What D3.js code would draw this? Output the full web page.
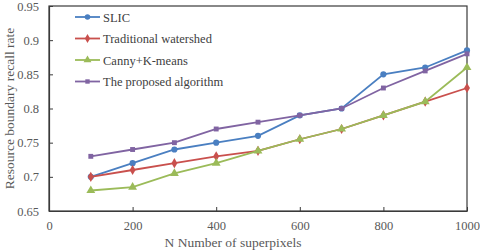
<!DOCTYPE html>
<html>
<head>
<meta charset="utf-8">
<script src="https://cdn.jsdelivr.net/npm/d3@7"></script>
<style>
  body { margin: 0; background: #fff; }
</style>
</head>
<body>
<script>
// values
var superpixels = [100, 200, 300, 400, 500, 600, 700, 800, 900, 1000];
var slic = [0.70, 0.72, 0.74, 0.75, 0.76, 0.79, 0.80, 0.85, 0.86, 0.885];
var watershed = [0.70, 0.71, 0.72, 0.73, 0.738, 0.755, 0.77, 0.79, 0.81, 0.83];
var cannyKmeans = [0.68, 0.685, 0.705, 0.72, 0.738, 0.755, 0.77, 0.79, 0.81, 0.86];
var proposed = [0.73, 0.74, 0.75, 0.77, 0.78, 0.79, 0.80, 0.83, 0.855, 0.88];
var xTicks = [0, 200, 400, 600, 800, 1000];
var yTicks = [0.65, 0.7, 0.75, 0.8, 0.85, 0.9, 0.95];

var serif = '"Liberation Serif", "Times New Roman", serif';

var series = [
  {name: 'SLIC', values: slic, color: '#4a7fc1', symbol: d3.symbolCircle, size: 30},
  {name: 'Traditional watershed', values: watershed, color: '#c9504d', symbol: d3.symbolDiamond, size: 30},
  {name: 'Canny+K-means', values: cannyKmeans, color: '#9bbb59', symbol: d3.symbolTriangle, size: 34},
  {name: 'The proposed algorithm', values: proposed, color: '#8064a2', symbol: d3.symbolSquare, size: 24}
];

var width = 480, height = 252;
var margin = {top: 6, right: 13, bottom: 41, left: 49};

var svg = d3.select('body').append('svg')
  .attr('width', width)
  .attr('height', height)
  .style('font-family', serif);

var x = d3.scaleLinear().domain([0, 1000]).range([margin.left, width - margin.right]);
var y = d3.scaleLinear().domain([0.65, 0.95]).range([height - margin.bottom, margin.top]);

// frame
svg.append('rect')
  .attr('x', x(0)).attr('y', y(0.95))
  .attr('width', x(1000) - x(0)).attr('height', y(0.65) - y(0.95))
  .attr('fill', 'none').attr('stroke', '#3a3a3a').attr('stroke-width', 1.2);

var xAxis = svg.append('g')
  .attr('transform', 'translate(0,' + y(0.65) + ')')
  .call(d3.axisBottom(x).tickValues(xTicks).tickSizeInner(-4).tickSizeOuter(0).tickPadding(10).tickFormat(d3.format('d')));

var yAxis = svg.append('g')
  .attr('transform', 'translate(' + x(0) + ',0)')
  .call(d3.axisLeft(y).tickValues(yTicks).tickSizeInner(-4).tickSizeOuter(0).tickPadding(10)
    .tickFormat(function(d) { return d3.format('')(+d.toFixed(2)); }));

[xAxis, yAxis].forEach(function(g) {
  g.attr('font-family', null).style('font-family', serif);
  g.select('.domain').attr('stroke', '#3a3a3a').attr('stroke-width', 1.2);
  g.selectAll('.tick line').attr('stroke', '#3a3a3a');
  g.selectAll('.tick text').attr('fill', '#595959').style('font-size', '12.5px')
    .style('font-family', serif);
});

var line = d3.line()
  .x(function(d, i) { return x(superpixels[i]); })
  .y(function(d) { return y(d); });

series.forEach(function(s) {
  svg.append('path')
    .attr('d', line(s.values))
    .attr('fill', 'none')
    .attr('stroke', s.color)
    .attr('stroke-width', 1.8);
  svg.selectAll(null)
    .data(s.values)
    .enter()
    .append('path')
    .attr('d', d3.symbol().type(s.symbol).size(s.size))
    .attr('transform', function(d, i) { return 'translate(' + x(superpixels[i]) + ',' + y(d) + ')'; })
    .attr('fill', s.color);
});

// legend
var legend = svg.append('g').attr('transform', 'translate(75,17)');
series.forEach(function(s, i) {
  var g = legend.append('g').attr('transform', 'translate(0,' + (i * 21.5) + ')');
  g.append('line').attr('x1', 0).attr('x2', 25).attr('y1', 0).attr('y2', 0)
    .attr('stroke', s.color).attr('stroke-width', 1.8);
  g.append('path').attr('d', d3.symbol().type(s.symbol).size(s.size * 0.8))
    .attr('transform', 'translate(12.5,0)').attr('fill', s.color);
  g.append('text').attr('x', 28).attr('y', 4.5)
    .style('font-family', serif)
    .style('font-size', '12.5px').attr('fill', '#404040')
    .text(s.name);
});

// axis titles
svg.append('text')
  .attr('x', 233).attr('y', 247)
  .attr('text-anchor', 'middle')
  .style('font-family', serif)
  .style('font-size', '13.5px').attr('fill', '#595959')
  .text('N Number of superpixels');

svg.append('text')
  .attr('transform', 'translate(14,' + ((y(0.65) + y(0.95)) / 2) + ') rotate(-90)')
  .attr('text-anchor', 'middle')
  .style('font-family', serif)
  .style('font-size', '13.5px').attr('fill', '#595959')
  .text('Resource boundary recall rate');
</script>
</body>
</html>
